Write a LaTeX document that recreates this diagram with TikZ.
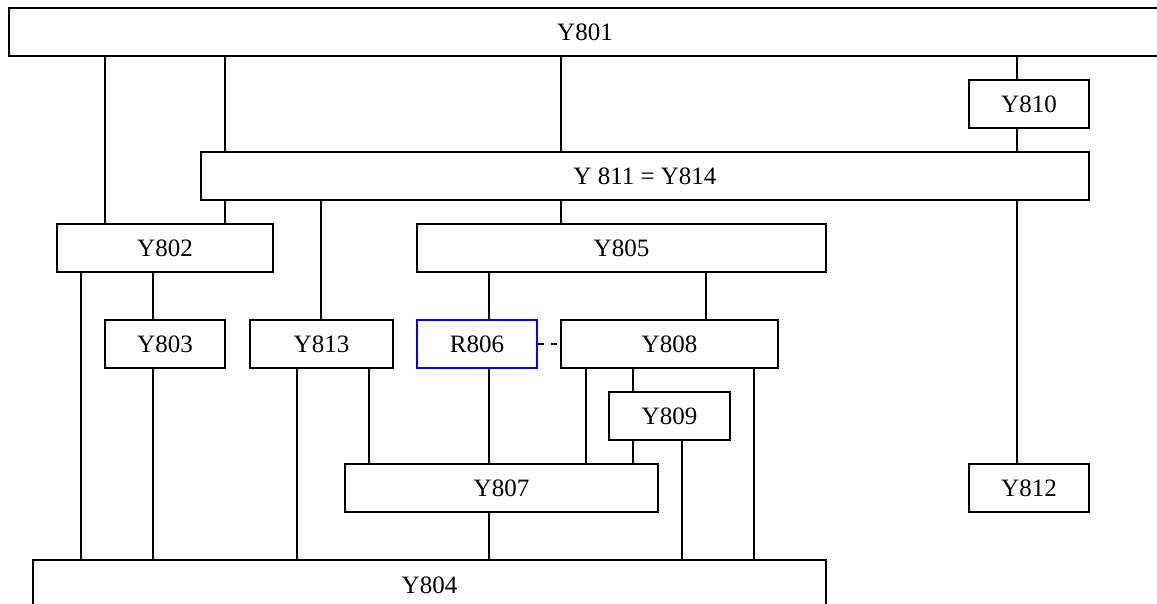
\documentclass[tikz,border=0pt]{standalone}
\usepackage{fontspec}
\setmainfont{Liberation Serif}
\begin{document}
\begin{tikzpicture}[x=1pt,y=-1pt,
  box/.style={draw=black, line width=1.3pt, rectangle, inner sep=0pt, anchor=center,
    font=\fontsize{25}{30}\selectfont},
  bluebox/.style={box, draw=blue},
  conn/.style={draw=black, line width=1.3pt},
  dashconn/.style={conn, dash pattern=on 6pt off 7pt}]
\useasboundingbox (0,0) rectangle (1157,604);
\clip (0,0) rectangle (1157,604);
\fill[white] (0,0) rectangle (1157,604);
% nodes
\node[box, minimum width=1152pt, minimum height=48pt] (y801) at (585,32) {Y801};
\node[box, minimum width=120pt, minimum height=48pt] (y810) at (1029,104) {Y810};
\node[box, minimum width=888pt, minimum height=48pt] (y811) at (645,176) {Y 811 = Y814};
\node[box, minimum width=216pt, minimum height=48pt] (y802) at (165,248) {Y802};
\node[box, minimum width=409pt, minimum height=48pt] (y805) at (621.5,248) {Y805};
\node[box, minimum width=120pt, minimum height=48pt] (y803) at (165,344) {Y803};
\node[box, minimum width=143pt, minimum height=48pt] (y813) at (321.5,344) {Y813};
\node[bluebox, minimum width=120pt, minimum height=48pt] (r806) at (477,344) {R806};
\node[box, minimum width=217pt, minimum height=48pt] (y808) at (669.5,344) {Y808};
\node[box, minimum width=121pt, minimum height=48pt] (y809) at (669.5,416) {Y809};
\node[box, minimum width=313pt, minimum height=48pt] (y807) at (501.5,488) {Y807};
\node[box, minimum width=120pt, minimum height=48pt] (y812) at (1029,488) {Y812};
\node[box, minimum width=793pt, minimum height=50pt] (y804) at (429.5,585) {Y804};
% connectors
\foreach \x/\a/\b in {105/y801/y802, 225/y801/y811, 561/y801/y811, 1017/y801/y810,
    1017/y810/y811, 1017/y811/y812, 225/y811/y802, 321/y811/y813, 561/y811/y805,
    81/y802/y804, 153/y802/y803, 153/y803/y804, 297/y813/y804, 369/y813/y807,
    489/y805/r806, 489/r806/y807, 489/y807/y804, 706/y805/y808, 586/y808/y807,
    633/y808/y809, 633/y809/y807, 682/y809/y804, 754/y808/y804}
  \draw[conn] (\a.south -| \x,0) -- (\b.north -| \x,0);
\draw[dashconn] (r806.east) -- (y808.west);
\end{tikzpicture}
\end{document}
